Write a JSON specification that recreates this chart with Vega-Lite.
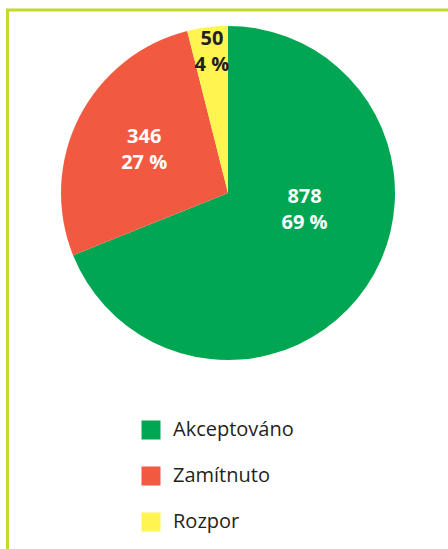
{
  "$schema": "https://vega.github.io/schema/vega-lite/v6.json",
  "width": 443,
  "height": 542,
  "autosize": {"type": "none"},
  "padding": {"left": 7.5, "top": 10, "right": -2.5, "bottom": -3},
  "background": "white",
  "view": {"stroke": "#c4d82e", "strokeWidth": 3, "fill": "white"},
  "config": {
    "view": {"stroke": "#c4d82e", "strokeWidth": 3},
    "font": "Open Sans"
  },
  "data": {
    "values": [
      {"stav": "Akceptováno", "pocet": 878, "popisek": "878\n69 %", "poradi": 1},
      {"stav": "Zamítnuto", "pocet": 346, "popisek": "346\n27 %", "poradi": 2},
      {"stav": "Rozpor", "pocet": 50, "popisek": "50\n4 %", "poradi": 3}
    ]
  },
  "encoding": {
    "theta": {"field": "pocet", "type": "quantitative", "stack": true},
    "order": {"field": "poradi", "type": "quantitative"}
  },
  "layer": [
    {
      "mark": {"type": "arc", "outerRadius": 167, "xOffset": -1, "yOffset": -88},
      "encoding": {
        "color": {
          "field": "stav",
          "type": "nominal",
          "scale": {
            "domain": ["Akceptováno", "Zamítnuto", "Rozpor"],
            "range": ["#00a651", "#f15a40", "#fff450"]
          },
          "legend": {
            "title": null,
            "orient": "none",
            "legendX": 133.5,
            "legendY": 410,
            "symbolType": "square",
            "symbolSize": 361,
            "symbolStrokeWidth": 0,
            "symbolOpacity": 1,
            "labelFontSize": 20,
            "labelFont": "Open Sans",
            "labelColor": "#231f20",
            "labelOffset": 12,
            "rowPadding": 26,
            "padding": 0
          }
        }
      }
    },
    {
      "mark": {"type": "text", "radius": 78.5, "thetaOffset": -0.37, "xOffset": -1, "yOffset": -88, "dy": -13, "fontSize": 20, "fontWeight": "bold", "lineBreak": "\n", "lineHeight": 26, "baseline": "middle", "align": "center"},
      "encoding": {
        "detail": {"field": "stav", "type": "nominal"},
        "text": {"condition": {"test": "datum.stav === 'Akceptováno'", "field": "popisek"}, "value": ""},
        "color": {"value": "#ffffff"}
      }
    },
    {
      "mark": {"type": "text", "radius": 94, "thetaOffset": 0, "xOffset": -1, "yOffset": -88, "dy": -13, "fontSize": 20, "fontWeight": "bold", "lineBreak": "\n", "lineHeight": 26, "baseline": "middle", "align": "center"},
      "encoding": {
        "detail": {"field": "stav", "type": "nominal"},
        "text": {"condition": {"test": "datum.stav === 'Zamítnuto'", "field": "popisek"}, "value": ""},
        "color": {"value": "#ffffff"}
      }
    },
    {
      "mark": {"type": "text", "radius": 142, "thetaOffset": 0.01, "xOffset": -1, "yOffset": -88, "dy": -13, "fontSize": 20, "fontWeight": "bold", "lineBreak": "\n", "lineHeight": 26, "baseline": "middle", "align": "center"},
      "encoding": {
        "detail": {"field": "stav", "type": "nominal"},
        "text": {"condition": {"test": "datum.stav === 'Rozpor'", "field": "popisek"}, "value": ""},
        "color": {"value": "#231f20"}
      }
    }
  ]
}
